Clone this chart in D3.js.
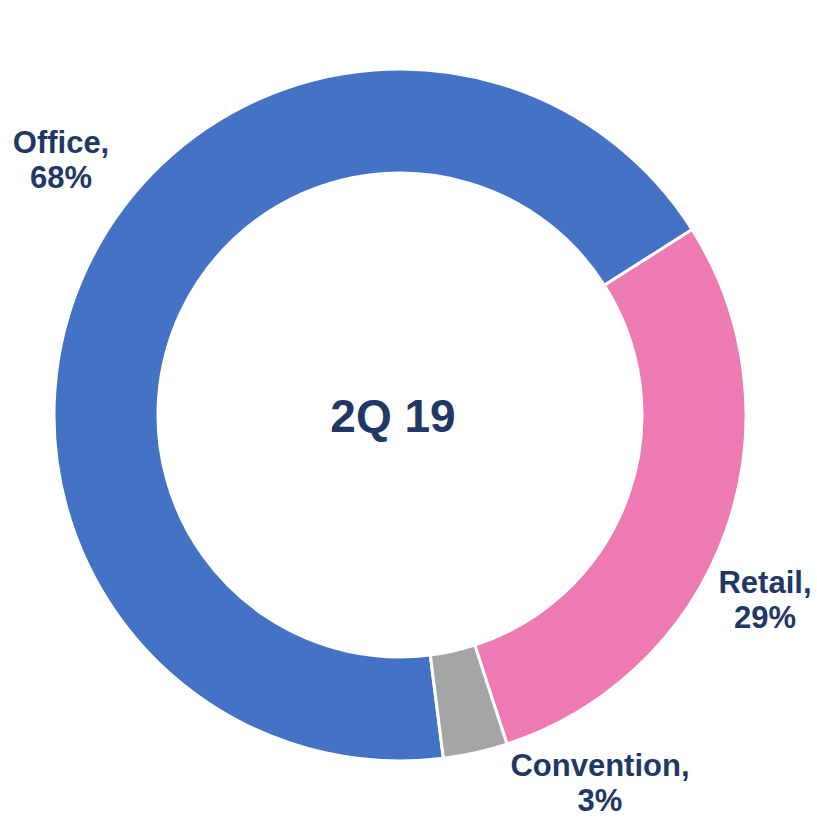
<!DOCTYPE html>
<html><head><meta charset="utf-8">
<script src="https://cdn.jsdelivr.net/npm/d3@7/dist/d3.min.js"></script>
<style>html,body{margin:0;padding:0;background:#fff;}</style>
</head><body>
<svg id="chart" width="817" height="820"></svg>
<script>
const categories = ["Office", "Retail", "Convention"];
const values = [68, 29, 3];
const colors = ["#4472C4", "#ED7AB3", "#A5A5A5"];
const centerLabel = "2Q 19";
const labelPos = [[61, 153], [765, 593], [600, 776]];

const svg = d3.select("#chart");
const cx = 400, cy = 415, rOuter = 346, rInner = 242;
const deg = Math.PI / 180;
const pie = d3.pie().sort(null).value(d => d)
  .startAngle(172.8 * deg).endAngle((172.8 + 360) * deg);
const arc = d3.arc().innerRadius(rInner).outerRadius(rOuter);
const g = svg.append("g").attr("transform", `translate(${cx},${cy})`);
g.selectAll("path").data(pie(values)).join("path")
  .attr("d", arc)
  .attr("fill", (d, i) => colors[i])
  .attr("stroke", "#fff").attr("stroke-width", 3).attr("stroke-linejoin", "miter");

g.append("text").attr("x", -7).attr("y", 17).attr("text-anchor", "middle")
  .attr("font-family", "Liberation Sans, Arial, sans-serif").attr("font-weight", "bold")
  .attr("font-size", 46).attr("fill", "#1F3864").text(centerLabel);

const lab = svg.selectAll("text.lab").data(categories).join("text").attr("class", "lab")
  .attr("text-anchor", "middle")
  .attr("font-family", "Liberation Sans, Arial, sans-serif").attr("font-weight", "bold")
  .attr("font-size", 31).attr("fill", "#1F3864");
lab.each(function(d, i) {
  const t = d3.select(this);
  t.append("tspan").attr("x", labelPos[i][0]).attr("y", labelPos[i][1]).text(d + ",");
  t.append("tspan").attr("x", labelPos[i][0]).attr("dy", 35).text(values[i] + "%");
});
</script>
</body></html>
